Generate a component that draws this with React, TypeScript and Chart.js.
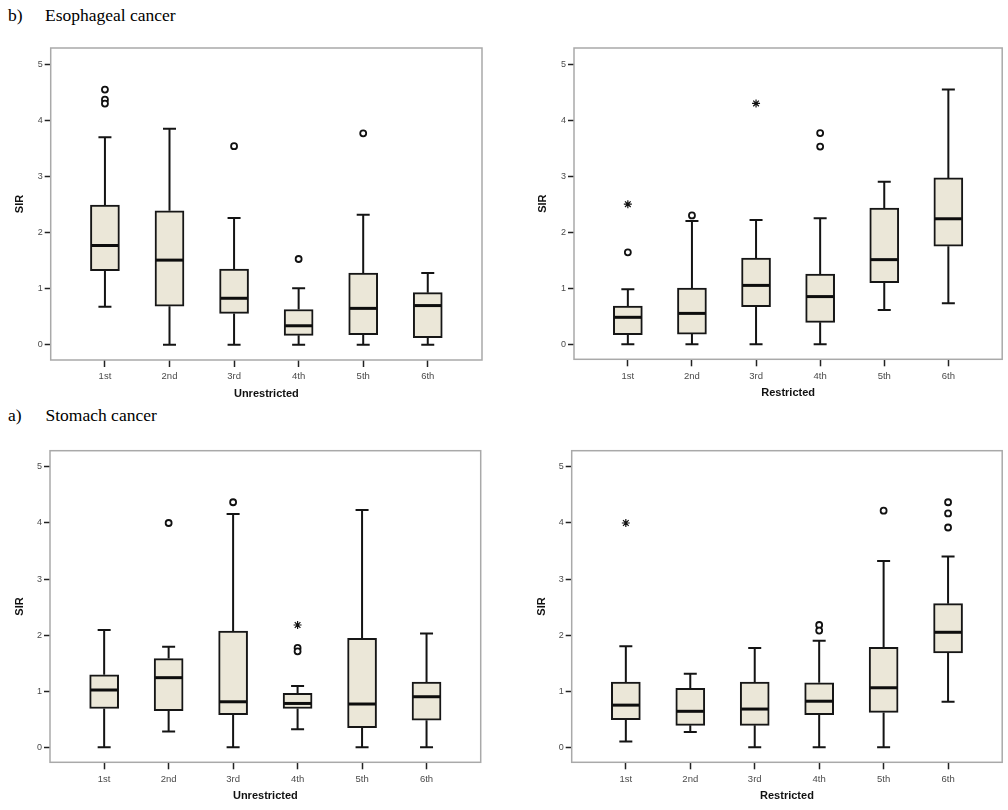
import React, { useEffect, useRef } from "react";
import { Chart, registerables } from "chart.js";

Chart.register(...registerables);

const categories = ["1st", "2nd", "3rd", "4th", "5th", "6th"];
const yTickValues = [0, 1, 2, 3, 4, 5];

// b) Esophageal cancer — Unrestricted
const esoUnrLow = [0.68, 0.0, 0.0, 0.0, 0.0, 0.0];
const esoUnrQ1 = [1.32, 0.69, 0.56, 0.17, 0.18, 0.13];
const esoUnrMedian = [1.77, 1.51, 0.83, 0.34, 0.65, 0.70];
const esoUnrQ3 = [2.49, 2.39, 1.35, 0.63, 1.28, 0.93];
const esoUnrHigh = [3.70, 3.85, 2.26, 1.01, 2.32, 1.28];
const esoUnrOutliers = [[4.55, 4.37, 4.30], [], [3.54], [1.53], [3.77], []];
const esoUnrExtremes: number[][] = [[], [], [], [], [], []];

// b) Esophageal cancer — Restricted
const esoResLow = [0.0, 0.0, 0.0, 0.0, 0.61, 0.73];
const esoResQ1 = [0.17, 0.18, 0.67, 0.39, 1.10, 1.75];
const esoResMedian = [0.48, 0.55, 1.05, 0.85, 1.51, 2.24];
const esoResQ3 = [0.68, 1.0, 1.54, 1.25, 2.43, 2.97];
const esoResHigh = [0.98, 2.20, 2.22, 2.25, 2.90, 4.55];
const esoResOutliers = [[1.64], [2.30], [], [3.77, 3.53], [], []];
const esoResExtremes = [[2.50], [], [4.30], [], [], []];

// a) Stomach cancer — Unrestricted
const stoUnrLow = [0.0, 0.28, 0.0, 0.32, 0.0, 0.0];
const stoUnrQ1 = [0.69, 0.65, 0.58, 0.69, 0.35, 0.48];
const stoUnrMedian = [1.02, 1.24, 0.81, 0.78, 0.77, 0.90];
const stoUnrQ3 = [1.29, 1.58, 2.07, 0.96, 1.94, 1.16];
const stoUnrHigh = [2.09, 1.79, 4.16, 1.09, 4.23, 2.03];
const stoUnrOutliers = [[], [4.0], [4.37], [1.77, 1.71], [], []];
const stoUnrExtremes = [[], [], [], [2.18], [], []];

// a) Stomach cancer — Restricted
const stoResLow = [0.10, 0.27, 0.0, 0.0, 0.0, 0.81];
const stoResQ1 = [0.49, 0.39, 0.39, 0.58, 0.62, 1.68];
const stoResMedian = [0.75, 0.64, 0.68, 0.82, 1.06, 2.05];
const stoResQ3 = [1.16, 1.05, 1.16, 1.15, 1.78, 2.56];
const stoResHigh = [1.80, 1.31, 1.77, 1.90, 3.32, 3.40];
const stoResOutliers = [[], [], [], [2.18, 2.08], [4.22], [4.37, 4.17, 3.92]];
const stoResExtremes = [[4.0], [], [], [], [], []];

type PanelProps = {
  left: number;
  top: number;
  width: number;
  height: number;
  areaLeft: number;
  areaTop: number;
  areaRight: number;
  areaBottom: number;
  yTitlePad: number;
  xTitlePad: number;
  xTitle: string;
  low: number[];
  q1: number[];
  median: number[];
  q3: number[];
  high: number[];
  outliers: number[][];
  extremes: number[][];
};

const BOX_W = 29;
const CAP_W = 13;

function BoxPanel(p: PanelProps) {
  const ref = useRef<HTMLCanvasElement>(null);
  useEffect(() => {
    if (!ref.current) return;
    const boxData = categories.map((_, i) => ({ x: i, y: [p.q1[i], p.q3[i]] }));
    const outPts = p.outliers.flatMap((arr, i) => arr.map((v) => ({ x: i, y: v })));
    const extPts = p.extremes.flatMap((arr, i) => arr.map((v) => ({ x: i, y: v })));

    const extras = {
      id: "boxExtras",
      beforeDatasetsDraw(chart: any) {
        const { ctx, chartArea: a, scales } = chart;
        const xs = scales.x;
        const ys = scales.y;
        ctx.save();
        ctx.strokeStyle = "#a9a9a9";
        ctx.lineWidth = 1.5;
        ctx.strokeRect(a.left, a.top, a.right - a.left, a.bottom - a.top);
        ctx.strokeStyle = "#141414";
        ctx.lineWidth = 2;
        categories.forEach((_, i) => {
          const px = xs.getPixelForValue(i);
          const yHi = ys.getPixelForValue(p.high[i]);
          const yQ3 = ys.getPixelForValue(p.q3[i]);
          const yQ1 = ys.getPixelForValue(p.q1[i]);
          const yLo = ys.getPixelForValue(p.low[i]);
          ctx.beginPath();
          ctx.moveTo(px, yHi);
          ctx.lineTo(px, yQ3);
          ctx.moveTo(px, yQ1);
          ctx.lineTo(px, yLo);
          ctx.moveTo(px - CAP_W / 2, yHi);
          ctx.lineTo(px + CAP_W / 2, yHi);
          ctx.moveTo(px - CAP_W / 2, yLo);
          ctx.lineTo(px + CAP_W / 2, yLo);
          ctx.stroke();
        });
        ctx.restore();
      },
      afterDatasetsDraw(chart: any) {
        const { ctx, scales } = chart;
        const xs = scales.x;
        const ys = scales.y;
        ctx.save();
        ctx.strokeStyle = "#0d0d0d";
        ctx.lineWidth = 3;
        categories.forEach((_, i) => {
          const px = xs.getPixelForValue(i);
          const py = ys.getPixelForValue(p.median[i]);
          ctx.beginPath();
          ctx.moveTo(px - BOX_W / 2 + 1, py);
          ctx.lineTo(px + BOX_W / 2 - 1, py);
          ctx.stroke();
        });
        ctx.restore();
      },
    };

    const chart = new Chart(ref.current, {
      type: "bar",
      data: {
        datasets: [
          {
            type: "bar",
            data: boxData as any,
            backgroundColor: "#ebe7d8",
            borderColor: "#161616",
            borderWidth: 2,
            borderSkipped: false,
            barThickness: BOX_W,
          } as any,
          {
            type: "scatter",
            data: outPts,
            pointStyle: "circle",
            radius: 3,
            backgroundColor: "#ffffff",
            borderColor: "#111111",
            borderWidth: 1.8,
          } as any,
          {
            type: "scatter",
            data: extPts,
            pointStyle: "star",
            radius: 4,
            backgroundColor: "#111111",
            borderColor: "#111111",
            borderWidth: 1.2,
          } as any,
        ],
      },
      options: {
        animation: false,
        responsive: false,
        maintainAspectRatio: false,
        layout: {
          padding: { left: 0, top: p.areaTop, right: p.width - p.areaRight, bottom: 0 },
        },
        plugins: { legend: { display: false }, tooltip: { enabled: false } },
        scales: {
          x: {
            type: "linear",
            min: -0.84,
            max: 5.84,
            offset: false,
            afterBuildTicks: (s: any) => {
              s.ticks = categories.map((_, i) => ({ value: i }));
            },
            afterFit: (s: any) => {
              s.height = p.height - p.areaBottom;
            },
            ticks: {
              callback: (v: any) => categories[v as number] ?? "",
              font: { size: 9.5, family: "Liberation Sans" },
              color: "#4a4a4a",
              padding: 4,
              autoSkip: false,
              maxRotation: 0,
            },
            grid: {
              offset: false,
              drawOnChartArea: false,
              drawTicks: true,
              tickLength: 7,
              tickWidth: 1.5,
              tickColor: "#222222",
            },
            border: { display: false },
            title: {
              display: true,
              text: p.xTitle,
              font: { size: 11, weight: "bold", family: "Liberation Sans" },
              color: "#111111",
              padding: { top: 0, bottom: p.xTitlePad },
            },
          },
          y: {
            type: "linear",
            min: -0.27,
            max: 5.29,
            afterBuildTicks: (s: any) => {
              s.ticks = yTickValues.map((v) => ({ value: v }));
            },
            afterFit: (s: any) => {
              s.width = p.areaLeft;
            },
            ticks: {
              callback: (v: any) => String(v),
              font: { size: 9, family: "Liberation Sans" },
              color: "#4a4a4a",
              padding: 2,
            },
            grid: {
              drawOnChartArea: false,
              drawTicks: true,
              tickLength: 6,
              tickWidth: 1.5,
              tickColor: "#222222",
            },
            border: { display: false },
            title: {
              display: true,
              text: "SIR",
              font: { size: 11, weight: "bold", family: "Liberation Sans" },
              color: "#111111",
              padding: { top: p.yTitlePad, bottom: 0 },
            },
          },
        },
      } as any,
      plugins: [extras],
    });
    return () => chart.destroy();
  }, []);

  return (
    <div style={{ position: "absolute", left: p.left, top: p.top, width: p.width, height: p.height }}>
      <canvas ref={ref} width={p.width} height={p.height} style={{ width: p.width, height: p.height, display: "block" }} />
    </div>
  );
}

const headingStyle: React.CSSProperties = {
  position: "absolute",
  fontFamily: "'Liberation Serif', 'Times New Roman', serif",
  fontSize: 17.5,
  lineHeight: "18px",
  color: "#000",
  whiteSpace: "nowrap",
};

export default function App() {
  return (
    <div style={{ position: "absolute", left: 0, top: 0, width: 1008, height: 810, background: "#fff", overflow: "hidden" }}>
      <div style={{ ...headingStyle, left: 8, top: 6 }}>b)</div>
      <div style={{ ...headingStyle, left: 45, top: 6 }}>Esophageal cancer</div>
      <div style={{ ...headingStyle, left: 8, top: 405.5 }}>a)</div>
      <div style={{ ...headingStyle, left: 45.5, top: 405.5 }}>Stomach cancer</div>

      <BoxPanel
        left={0} top={30} width={500} height={378}
        areaLeft={50.7} areaTop={18} areaRight={482} areaBottom={330}
        yTitlePad={13.8} xTitlePad={7} xTitle="Unrestricted"
        low={esoUnrLow} q1={esoUnrQ1} median={esoUnrMedian} q3={esoUnrQ3} high={esoUnrHigh}
        outliers={esoUnrOutliers} extremes={esoUnrExtremes}
      />
      <BoxPanel
        left={500} top={30} width={508} height={378}
        areaLeft={74} areaTop={18} areaRight={505.7} areaBottom={329.3}
        yTitlePad={36.8} xTitlePad={8.5} xTitle="Restricted"
        low={esoResLow} q1={esoResQ1} median={esoResMedian} q3={esoResQ3} high={esoResHigh}
        outliers={esoResOutliers} extremes={esoResExtremes}
      />
      <BoxPanel
        left={0} top={430} width={500} height={380}
        areaLeft={50} areaTop={20.7} areaRight={480.7} areaBottom={332.3}
        yTitlePad={13.5} xTitlePad={7} xTitle="Unrestricted"
        low={stoUnrLow} q1={stoUnrQ1} median={stoUnrMedian} q3={stoUnrQ3} high={stoUnrHigh}
        outliers={stoUnrOutliers} extremes={stoUnrExtremes}
      />
      <BoxPanel
        left={500} top={430} width={508} height={380}
        areaLeft={71.7} areaTop={20.7} areaRight={502.3} areaBottom={332.3}
        yTitlePad={35.1} xTitlePad={7} xTitle="Restricted"
        low={stoResLow} q1={stoResQ1} median={stoResMedian} q3={stoResQ3} high={stoResHigh}
        outliers={stoResOutliers} extremes={stoResExtremes}
      />
    </div>
  );
}
